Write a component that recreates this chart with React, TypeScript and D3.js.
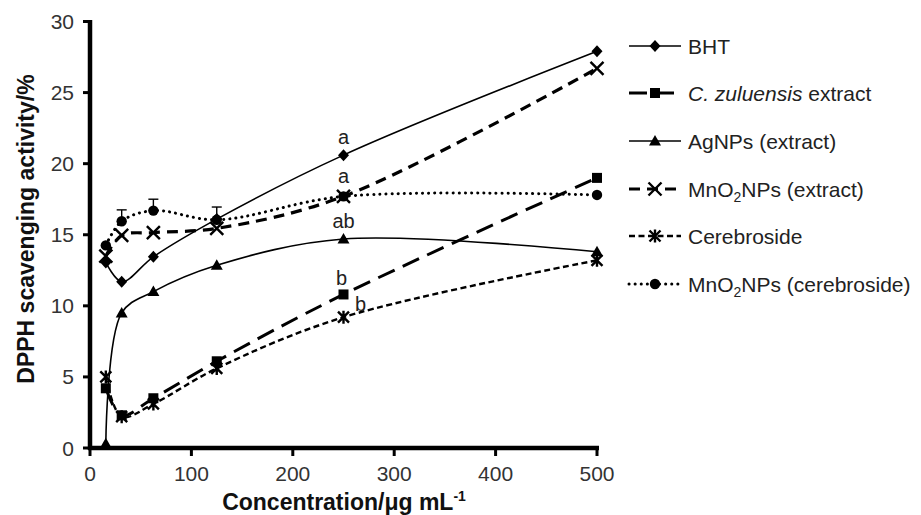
import React from "react";
import * as d3 from "d3";

const concentrations = [15.6, 31.25, 62.5, 125, 250, 500];
const bht = [13.05, 11.7, 13.45, 16.1, 20.6, 27.9];
const zuluensis = [4.2, 2.3, 3.5, 6.1, 10.8, 19.0];
const agnps = [0.3, 9.5, 11.0, 12.85, 14.7, 13.8];
const mno2Extract = [13.5, 14.95, 15.15, 15.45, 17.7, 26.7];
const cerebroside = [5.0, 2.2, 3.1, 5.6, 9.2, 13.2];
const mno2Cereb = [14.25, 15.95, 16.7, 16.05, 17.7, 17.8];
const mno2CerebErr = [0, 0.8, 0.8, 0.9, 0, 0];
const yTicks = [0, 5, 10, 15, 20, 25, 30];
const xTicks = [0, 100, 200, 300, 400, 500];
const letters = [
  { x: 250, y: 20.6, text: "a", dx: 0, dy: -11 },
  { x: 250, y: 17.7, text: "a", dx: 0, dy: -13 },
  { x: 250, y: 14.7, text: "ab", dx: 0, dy: -11.5 },
  { x: 250, y: 10.8, text: "b", dx: -2, dy: -9 },
  { x: 250, y: 9.2, text: "b", dx: 17, dy: -6.5 },
];

type Marker = "diamond" | "square" | "triangle" | "x" | "star" | "circle";
const series = [
  { key: "bht", values: bht, marker: "diamond" as Marker, dash: "", width: 1.6 },
  { key: "zul", values: zuluensis, marker: "square" as Marker, dash: "18 9", width: 3 },
  { key: "ag", values: agnps, marker: "triangle" as Marker, dash: "", width: 1.6 },
  { key: "mnx", values: mno2Extract, marker: "x" as Marker, dash: "11 7", width: 3.2 },
  { key: "cer", values: cerebroside, marker: "star" as Marker, dash: "6 3.5", width: 2.4 },
  { key: "mnc", values: mno2Cereb, marker: "circle" as Marker, dash: "0.1 6", width: 3 },
];

function MarkerShape({ type, x, y }: { type: Marker; x: number; y: number }) {
  const c = "#000";
  switch (type) {
    case "diamond":
      return <path d={`M${x},${y - 6}L${x + 5.5},${y}L${x},${y + 6}L${x - 5.5},${y}Z`} fill={c} />;
    case "square":
      return <rect x={x - 5} y={y - 5} width={10} height={10} fill={c} />;
    case "triangle":
      return <path d={`M${x},${y - 6}L${x + 6},${y + 4.5}L${x - 6},${y + 4.5}Z`} fill={c} />;
    case "x":
      return (
        <path d={`M${x - 6.5},${y - 6.5}L${x + 6.5},${y + 6.5}M${x + 6.5},${y - 6.5}L${x - 6.5},${y + 6.5}`} stroke={c} strokeWidth={2.4} />
      );
    case "star":
      return (
        <path
          d={`M${x - 5.5},${y - 5.5}L${x + 5.5},${y + 5.5}M${x + 5.5},${y - 5.5}L${x - 5.5},${y + 5.5}M${x},${y - 6.5}L${x},${y + 6.5}`}
          stroke={c}
          strokeWidth={2.4}
        />
      );
    case "circle":
      return <circle cx={x} cy={y} r={5.2} fill={c} />;
  }
  return null;
}

export default function App() {
  const W = 921, H = 515;
  const x = d3.scaleLinear().domain([0, 500]).range([90, 597]);
  const y = d3.scaleLinear().domain([0, 30]).range([448, 21.5]);
  const line = d3
    .line<[number, number]>()
    .x((d) => x(d[0]))
    .y((d) => y(d[1]))
    .curve(d3.curveCatmullRom.alpha(0.5));
  const font = "'Liberation Sans', Arial, sans-serif";
  const legendY = [46, 93, 141, 189, 236, 284];
  const lx0 = 629, lx1 = 681;

  return (
    <svg width={W} height={H} style={{ position: "absolute", left: 0, top: 0 }} fontFamily={font}>
      <rect width={W} height={H} fill="#fff" />
      {series.map((s) => (
        <path
          key={s.key}
          d={line(concentrations.map((c, i) => [c, s.values[i]] as [number, number])) || ""}
          fill="none"
          stroke="#000"
          strokeWidth={s.width}
          strokeDasharray={s.dash || undefined}
          strokeLinecap={s.key === "mnc" ? "round" : "butt"}
        />
      ))}
      {concentrations.map((c, i) =>
        mno2CerebErr[i] > 0 ? (
          <g key={"e" + i} stroke="#000" strokeWidth={1.4}>
            <line x1={x(c)} x2={x(c)} y1={y(mno2Cereb[i])} y2={y(mno2Cereb[i] + mno2CerebErr[i])} />
            <line x1={x(c) - 5} x2={x(c) + 5} y1={y(mno2Cereb[i] + mno2CerebErr[i])} y2={y(mno2Cereb[i] + mno2CerebErr[i])} />
          </g>
        ) : null
      )}
      {series.map((s) =>
        concentrations.map((c, i) => <MarkerShape key={s.key + i} type={s.marker} x={x(c)} y={y(s.values[i])} />)
      )}
      {letters.map((l, i) => (
        <text key={"l" + i} x={x(l.x) + l.dx} y={y(l.y) + l.dy} textAnchor="middle" fontSize={20} fill="#222">
          {l.text}
        </text>
      ))}
      <line x1={90} x2={90} y1={20} y2={450} stroke="#000" strokeWidth={4.5} />
      <line x1={88} x2={599} y1={448} y2={448} stroke="#000" strokeWidth={4.5} />
      {yTicks.map((t) => (
        <g key={"y" + t}>
          <line x1={83} x2={90} y1={y(t)} y2={y(t)} stroke="#000" strokeWidth={3} />
          <text x={74} y={y(t)} dy="0.36em" textAnchor="end" fontSize={21} fill="#333">
            {t}
          </text>
        </g>
      ))}
      {xTicks.map((t) => (
        <g key={"x" + t}>
          <line x1={x(t)} x2={x(t)} y1={448} y2={456} stroke="#000" strokeWidth={3} />
          <text x={x(t)} y={481} textAnchor="middle" fontSize={21} fill="#333">
            {t}
          </text>
        </g>
      ))}
      <text
        transform={`translate(34,${229}) rotate(-90)`}
        textAnchor="middle"
        fontSize={23}
        fontWeight="bold"
        fill="#111"
      >
        DPPH scavenging activity/%
      </text>
      <text x={344} y={510} textAnchor="middle" fontSize={23} fontWeight="bold" fill="#111">
        Concentration/μg mL
        <tspan dy={-9} fontSize={14}>-1</tspan>
      </text>
      {series.map((s, i) => (
        <g key={"lg" + s.key}>
          <line
            x1={lx0}
            x2={lx1}
            y1={legendY[i]}
            y2={legendY[i]}
            stroke="#000"
            strokeWidth={s.width}
            strokeDasharray={s.dash || undefined}
            strokeLinecap={s.key === "mnc" ? "round" : "butt"}
          />
          <MarkerShape type={s.marker} x={(lx0 + lx1) / 2} y={legendY[i]} />
        </g>
      ))}
      <g fontSize={21} fill="#222">
        <text x={688} y={legendY[0]} dy="0.36em">BHT</text>
        <text x={688} y={legendY[1]} dy="0.36em">
          <tspan fontStyle="italic">C. zuluensis</tspan> extract
        </text>
        <text x={688} y={legendY[2]} dy="0.36em">AgNPs (extract)</text>
        <text x={688} y={legendY[3]} dy="0.36em">
          MnO<tspan fontSize={14} dy={5}>2</tspan>
          <tspan dy={-5}>NPs (extract)</tspan>
        </text>
        <text x={688} y={legendY[4]} dy="0.36em">Cerebroside</text>
        <text x={688} y={legendY[5]} dy="0.36em">
          MnO<tspan fontSize={14} dy={5}>2</tspan>
          <tspan dy={-5}>NPs (cerebroside)</tspan>
        </text>
      </g>
    </svg>
  );
}
